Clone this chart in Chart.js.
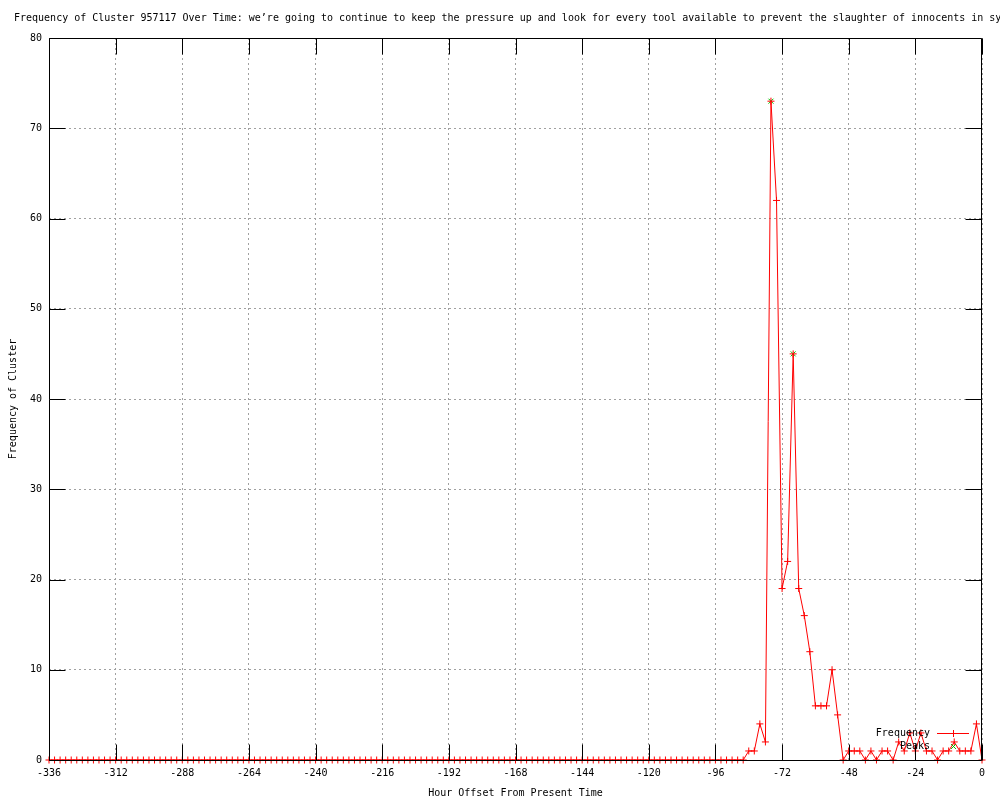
<!DOCTYPE html>
<html>
<head>
<meta charset="utf-8">
<script src="https://cdn.jsdelivr.net/npm/chart.js@4/dist/chart.umd.min.js"></script>
<style>
  body { margin: 0; background: #fff; }
  canvas { display: block; }
</style>
</head>
<body>
<canvas id="clusterChart" width="1000" height="800"></canvas>
<script>
const chartTitle = 'Frequency of Cluster 957117 Over Time: we\u2019re going to continue to keep the pressure up and look for every tool available to prevent the slaughter of innocents in syria';

// hour offsets, one sample every 2 hours
const hours = [
  -336, -334, -332, -330, -328, -326, -324, -322, -320, -318, -316, -314,
  -312, -310, -308, -306, -304, -302, -300, -298, -296, -294, -292, -290,
  -288, -286, -284, -282, -280, -278, -276, -274, -272, -270, -268, -266,
  -264, -262, -260, -258, -256, -254, -252, -250, -248, -246, -244, -242,
  -240, -238, -236, -234, -232, -230, -228, -226, -224, -222, -220, -218,
  -216, -214, -212, -210, -208, -206, -204, -202, -200, -198, -196, -194,
  -192, -190, -188, -186, -184, -182, -180, -178, -176, -174, -172, -170,
  -168, -166, -164, -162, -160, -158, -156, -154, -152, -150, -148, -146,
  -144, -142, -140, -138, -136, -134, -132, -130, -128, -126, -124, -122,
  -120, -118, -116, -114, -112, -110, -108, -106, -104, -102, -100, -98,
  -96, -94, -92, -90, -88, -86, -84, -82, -80, -78, -76, -74,
  -72, -70, -68, -66, -64, -62, -60, -58, -56, -54, -52, -50,
  -48, -46, -44, -42, -40, -38, -36, -34, -32, -30, -28, -26,
  -24, -22, -20, -18, -16, -14, -12, -10, -8, -6, -4, -2,
  0
];

const frequency = [
  0, 0, 0, 0, 0, 0, 0, 0, 0, 0, 0, 0,
  0, 0, 0, 0, 0, 0, 0, 0, 0, 0, 0, 0,
  0, 0, 0, 0, 0, 0, 0, 0, 0, 0, 0, 0,
  0, 0, 0, 0, 0, 0, 0, 0, 0, 0, 0, 0,
  0, 0, 0, 0, 0, 0, 0, 0, 0, 0, 0, 0,
  0, 0, 0, 0, 0, 0, 0, 0, 0, 0, 0, 0,
  0, 0, 0, 0, 0, 0, 0, 0, 0, 0, 0, 0,
  0, 0, 0, 0, 0, 0, 0, 0, 0, 0, 0, 0,
  0, 0, 0, 0, 0, 0, 0, 0, 0, 0, 0, 0,
  0, 0, 0, 0, 0, 0, 0, 0, 0, 0, 0, 0,
  0, 0, 0, 0, 0, 0, 1, 1, 4, 2, 73, 62,
  19, 22, 45, 19, 16, 12, 6, 6, 6, 10, 5, 0,
  1, 1, 1, 0, 1, 0, 1, 1, 0, 2, 1, 3,
  1, 3, 1, 1, 0, 1, 1, 2, 1, 1, 1, 4,
  0
];

const peakHours = [-76, -68];
const peakValues = [73, 45];

const xTicks = { min: -336, max: 0, step: 24 };
const yTicks = { min: 0, max: 80, step: 10 };

const freqColor = '#ff0000';
const peakColor = '#00c000';

const monoFont = { family: '"DejaVu Sans Mono", "Liberation Mono", monospace', size: 10 };
const fontCss = '10px "DejaVu Sans Mono", "Liberation Mono", monospace';

// gnuplot-like frame, inward ticks, key and title
const gnuplotDecor = {
  id: 'gnuplotDecor',
  afterDatasetsDraw(chart) {
    const { ctx, chartArea: a, scales } = chart;
    const L = a.left + 0.5, R = a.right - 0.5, T = a.top + 0.5, B = a.bottom + 0.5;
    ctx.save();
    ctx.strokeStyle = '#000';
    ctx.lineWidth = 1;
    ctx.beginPath();
    ctx.rect(L, T, R - L, B - T);
    scales.x.ticks.forEach(t => {
      const px = Math.round(scales.x.getPixelForValue(t.value)) + 0.5;
      ctx.moveTo(px, B); ctx.lineTo(px, B - 16);
      ctx.moveTo(px, T); ctx.lineTo(px, T + 16);
    });
    scales.y.ticks.forEach(t => {
      const py = Math.round(scales.y.getPixelForValue(t.value)) + 0.5;
      ctx.moveTo(L, py); ctx.lineTo(L + 16, py);
      ctx.moveTo(R, py); ctx.lineTo(R - 16, py);
    });
    ctx.stroke();
    ctx.restore();
  },
  afterDraw(chart) {
    const { ctx } = chart;
    ctx.save();
    ctx.setLineDash([]);
    ctx.font = fontCss;
    ctx.fillStyle = '#000';
    ctx.textBaseline = 'middle';
    ctx.textAlign = 'left';
    ctx.fillText(chartTitle, 14, 18);

    // key in the lower right corner
    ctx.textAlign = 'right';
    const rows = [
      { label: 'Frequency', color: freqColor, style: 'cross', y: 733, line: true },
      { label: 'Peaks', color: peakColor, style: 'crossRot', y: 746, line: false }
    ];
    rows.forEach(r => {
      ctx.fillStyle = '#000';
      ctx.fillText(r.label, 930, r.y);
      ctx.strokeStyle = r.color;
      ctx.fillStyle = r.color;
      ctx.lineWidth = 1;
      if (r.line) {
        ctx.beginPath();
        ctx.moveTo(937, r.y + 0.5);
        ctx.lineTo(969, r.y + 0.5);
        ctx.stroke();
      }
      Chart.helpers.drawPoint(ctx, {
        pointStyle: r.style, radius: 3.5, borderWidth: 1, rotation: 0
      }, 953.5, r.y + 0.5);
    });
    ctx.restore();
  }
};

const ctx = document.getElementById('clusterChart').getContext('2d');

new Chart(ctx, {
  type: 'line',
  data: {
    datasets: [
      {
        label: 'Frequency',
        data: hours.map((h, i) => ({ x: h, y: frequency[i] })),
        borderColor: freqColor,
        backgroundColor: freqColor,
        borderWidth: 1,
        tension: 0,
        pointStyle: 'cross',
        pointRadius: 3.5,
        pointBorderWidth: 1,
        pointBorderColor: freqColor,
        clip: false
      },
      {
        label: 'Peaks',
        data: peakHours.map((h, i) => ({ x: h, y: peakValues[i] })),
        showLine: false,
        borderColor: peakColor,
        backgroundColor: peakColor,
        pointStyle: 'crossRot',
        pointRadius: 3.5,
        pointBorderWidth: 1,
        pointBorderColor: peakColor,
        clip: false
      }
    ]
  },
  options: {
    responsive: false,
    animation: false,
    devicePixelRatio: 1,
    layout: { padding: { left: 0, right: 18, top: 38, bottom: 0 } },
    plugins: {
      legend: { display: false },
      title: { display: false },
      tooltip: { enabled: false }
    },
    scales: {
      x: {
        type: 'linear',
        min: xTicks.min,
        max: xTicks.max,
        afterFit: s => { s.height = 40; },
        ticks: {
          stepSize: xTicks.step,
          autoSkip: false,
          maxRotation: 0,
          padding: 7,
          color: '#000',
          font: monoFont
        },
        grid: { color: '#a0a0a0', lineWidth: 1, drawTicks: false },
        border: { display: false, dash: [2, 3] },
        title: {
          display: true,
          text: 'Hour Offset From Present Time',
          color: '#000',
          font: monoFont,
          padding: { top: 0, bottom: 1 }
        }
      },
      y: {
        min: yTicks.min,
        max: yTicks.max,
        afterFit: s => { s.width = 49; },
        ticks: {
          stepSize: yTicks.step,
          padding: 7,
          color: '#000',
          font: monoFont
        },
        grid: { color: '#a0a0a0', lineWidth: 1, drawTicks: false },
        border: { display: false, dash: [2, 3] },
        title: {
          display: true,
          text: 'Frequency of Cluster',
          color: '#000',
          font: monoFont,
          padding: { top: 7, bottom: 0 }
        }
      }
    }
  },
  plugins: [gnuplotDecor]
});
</script>
</body>
</html>
